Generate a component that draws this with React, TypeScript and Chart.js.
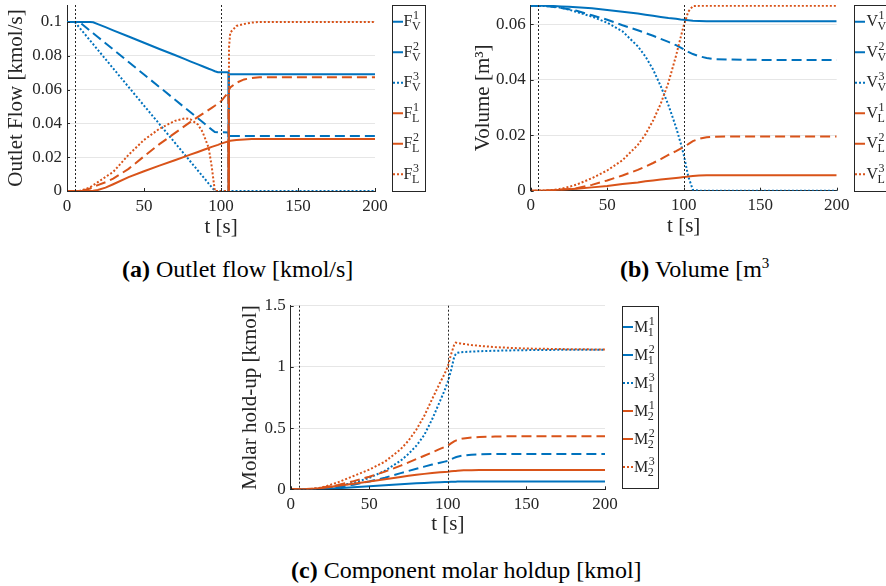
import { useEffect, useRef } from "react";
import { Chart, registerables } from "chart.js";

Chart.register(...registerables);

const BLUE = "#0072BD";
const ORANGE = "#D95319";
const INK = "#262626";
const GRID = "#e6e6e6";
const FONT = "'Liberation Serif', 'Times New Roman', serif";

// shared axis data
const VLINES = [5, 100];
const X_TICKS = [0, 50, 100, 150, 200];
const X_LABELS = ["0", "50", "100", "150", "200"];

// (a) outlet flow [kmol/s]
const T_A = [0, 5, 8, 10, 15, 17, 20, 25, 30, 40, 50, 60, 70, 77, 80, 85, 88, 92, 94, 96, 98, 100, 104.8, 105, 105.2, 106, 110, 115, 120, 125, 130, 150, 200];
const FV1 = [0.1, 0.1, 0.1, 0.1, 0.1, 0.0998, 0.0987, 0.0969, 0.095, 0.0914, 0.0877, 0.084, 0.0804, 0.0778, 0.0767, 0.0749, 0.0738, 0.0723, 0.0716, 0.0708, 0.0703, 0.0703, 0.0702, 0, 0.0691, 0.069, 0.069, 0.069, 0.069, 0.069, 0.069, 0.069, 0.069];
const FV2 = [0.1, 0.1, 0.1, 0.0985, 0.0948, 0.0933, 0.0911, 0.0874, 0.0837, 0.0763, 0.0689, 0.0615, 0.0541, 0.0489, 0.0467, 0.043, 0.0408, 0.0378, 0.0363, 0.0349, 0.0347, 0.0347, 0.0346, 0, 0.0326, 0.0325, 0.0325, 0.0325, 0.0325, 0.0325, 0.0325, 0.0325, 0.0325];
const FV3 = [0.1, 0.1, 0.0967, 0.0945, 0.089, 0.0868, 0.0835, 0.078, 0.0725, 0.0615, 0.0505, 0.0396, 0.0286, 0.0209, 0.0176, 0.0121, 0.0088, 0.0044, 0.0022, 0, 0, 0, 0, 0, 0, 0, 0, 0, 0, 0, 0, 0, 0];
const FL1 = [0, 0, 0, 0, 0, 0.0002, 0.0006, 0.002, 0.004, 0.0082, 0.0117, 0.015, 0.0182, 0.0205, 0.0215, 0.0231, 0.0241, 0.0254, 0.0261, 0.0267, 0.0273, 0.028, 0.0294, 0, 0.0295, 0.0297, 0.0302, 0.0305, 0.0307, 0.0308, 0.0308, 0.0308, 0.0308];
const FL2 = [0, 0, 0, 0.0002, 0.0015, 0.0024, 0.0035, 0.0052, 0.0073, 0.0131, 0.0205, 0.0277, 0.0342, 0.0388, 0.0407, 0.0438, 0.0456, 0.048, 0.0492, 0.0504, 0.0517, 0.053, 0.0585, 0, 0.0598, 0.0612, 0.064, 0.066, 0.0668, 0.0672, 0.0673, 0.0673, 0.0673];
const FL3 = [0, 0, 0, 0.0005, 0.0022, 0.0034, 0.0052, 0.0083, 0.0113, 0.0214, 0.0302, 0.0368, 0.0415, 0.043, 0.0425, 0.0393, 0.035, 0.0255, 0.0143, 0, 0, 0, 0, 0, 0.085, 0.0937, 0.0976, 0.0988, 0.0996, 0.1, 0.1, 0.1, 0.1];
const Y_TICKS_A = [0, 0.02, 0.04, 0.06, 0.08, 0.1];
const Y_LABELS_A = ["0", "0.02", "0.04", "0.06", "0.08", "0.1"];

// (b) volume [m3]
const T_B = [0, 5, 10, 15, 20, 25, 30, 40, 50, 60, 70, 75, 80, 85, 90, 95, 98, 100, 103, 106, 110, 115, 120, 130, 150, 200];
const VV1 = [0.0667, 0.0667, 0.0667, 0.0666, 0.0665, 0.0664, 0.0662, 0.0658, 0.0652, 0.0646, 0.0639, 0.0635, 0.0631, 0.0627, 0.0623, 0.062, 0.0618, 0.0617, 0.0615, 0.0613, 0.0612, 0.0611, 0.0611, 0.0611, 0.0611, 0.0611];
const VV2 = [0.0667, 0.0667, 0.0666, 0.0663, 0.0659, 0.0655, 0.0649, 0.0633, 0.0617, 0.0597, 0.0579, 0.0569, 0.0559, 0.0548, 0.0537, 0.0525, 0.0516, 0.051, 0.0501, 0.0493, 0.0485, 0.0479, 0.0475, 0.0473, 0.0472, 0.0472];
const VV3 = [0.0667, 0.0667, 0.0666, 0.0664, 0.066, 0.0653, 0.0645, 0.0628, 0.0606, 0.0575, 0.0521, 0.0484, 0.0437, 0.0377, 0.0309, 0.0229, 0.0172, 0.013, 0.0051, 0.0003, 0, 0, 0, 0, 0, 0];
const VL1 = [0, 0, 0.0001, 0.0002, 0.0003, 0.0005, 0.0007, 0.0012, 0.0017, 0.0024, 0.003, 0.0034, 0.0037, 0.004, 0.0043, 0.0046, 0.0048, 0.0049, 0.0051, 0.0053, 0.0055, 0.0056, 0.0056, 0.0056, 0.0056, 0.0056];
const VL2 = [0, 0, 0.0001, 0.0002, 0.0004, 0.0006, 0.0009, 0.0021, 0.0037, 0.0055, 0.0075, 0.0087, 0.01, 0.0114, 0.0129, 0.0143, 0.0152, 0.0158, 0.0168, 0.0179, 0.0187, 0.0193, 0.0195, 0.0196, 0.0196, 0.0196];
const VL3 = [0, 0, 0.0001, 0.0003, 0.0007, 0.0014, 0.0022, 0.0045, 0.0073, 0.011, 0.0165, 0.0203, 0.0253, 0.0314, 0.039, 0.0487, 0.0553, 0.0595, 0.0646, 0.0666, 0.0667, 0.0667, 0.0667, 0.0667, 0.0667, 0.0667];
const Y_TICKS_B = [0, 0.02, 0.04, 0.06];
const Y_LABELS_B = ["0", "0.02", "0.04", "0.06"];

// (c) component molar holdup [kmol]
const T_C = [0, 5, 10, 15, 20, 25, 30, 40, 50, 60, 70, 75, 80, 85, 90, 95, 98, 100, 102, 104, 105, 106, 108, 110, 115, 120, 130, 140, 150, 175, 200];
const M11 = [0, 0, 0.0003, 0.001, 0.003, 0.005, 0.008, 0.016, 0.025, 0.034, 0.042, 0.046, 0.049, 0.052, 0.055, 0.058, 0.059, 0.06, 0.061, 0.062, 0.062, 0.063, 0.063, 0.064, 0.064, 0.064, 0.064, 0.064, 0.064, 0.064, 0.064];
const M12 = [0, 0, 0.001, 0.003, 0.007, 0.013, 0.019, 0.038, 0.064, 0.095, 0.132, 0.15, 0.168, 0.185, 0.202, 0.217, 0.226, 0.232, 0.245, 0.257, 0.262, 0.266, 0.272, 0.277, 0.283, 0.286, 0.288, 0.289, 0.289, 0.289, 0.289];
const M13 = [0, 0, 0.001, 0.004, 0.009, 0.016, 0.026, 0.053, 0.093, 0.152, 0.234, 0.29, 0.356, 0.444, 0.572, 0.72, 0.81, 0.88, 0.97, 1.08, 1.105, 1.115, 1.12, 1.122, 1.125, 1.128, 1.132, 1.135, 1.137, 1.14, 1.141];
const M21 = [0, 0, 0.001, 0.004, 0.01, 0.019, 0.029, 0.046, 0.064, 0.083, 0.101, 0.11, 0.118, 0.126, 0.133, 0.139, 0.142, 0.144, 0.147, 0.149, 0.15, 0.151, 0.153, 0.155, 0.156, 0.157, 0.157, 0.157, 0.157, 0.157, 0.157];
const M22 = [0, 0, 0.002, 0.006, 0.014, 0.024, 0.035, 0.067, 0.103, 0.144, 0.193, 0.22, 0.247, 0.274, 0.302, 0.33, 0.346, 0.357, 0.375, 0.392, 0.398, 0.402, 0.41, 0.416, 0.423, 0.428, 0.431, 0.433, 0.433, 0.433, 0.433];
const M23 = [0, 0, 0.001, 0.005, 0.015, 0.035, 0.057, 0.109, 0.161, 0.226, 0.328, 0.398, 0.488, 0.6, 0.737, 0.87, 0.945, 1.005, 1.1, 1.18, 1.198, 1.196, 1.192, 1.188, 1.179, 1.172, 1.162, 1.155, 1.15, 1.145, 1.142];
const Y_TICKS_C = [0, 0.5, 1, 1.5];
const Y_LABELS_C = ["0", "0.5", "1", "1.5"];

// legend labels
const LEG_SUP = ["1", "2", "3", "1", "2", "3"];
const LEG_SUB_AB = ["V", "V", "V", "L", "L", "L"];
const LEG_SUB_C = ["1", "1", "1", "2", "2", "2"];

const STYLES = [
  { color: BLUE, dash: [] as number[] },
  { color: BLUE, dash: [10, 5] },
  { color: BLUE, dash: [2, 2] },
  { color: ORANGE, dash: [] as number[] },
  { color: ORANGE, dash: [10, 5] },
  { color: ORANGE, dash: [2, 2] },
];

type LegendCfg = {
  x: number; y: number; w: number; h: number;
  rowY0: number; rowGap: number; textDx: number; sample: number;
  base: string; sups: string[]; subs: string[];
};

type Spec = {
  t: number[]; ys: number[][]; yMax: number; yTicks: number[]; yLabels: string[];
  yTitle: string; padTop: number; padRight: number; yWidth: number; xHeight: number;
  yTitlePad: number; xTitlePad: number; legend: LegendCfg;
};

function legendPlugin(cfg: LegendCfg) {
  return {
    id: "texLegend",
    afterDraw(chart: any) {
      const ctx = chart.ctx as CanvasRenderingContext2D;
      ctx.save();
      ctx.fillStyle = "#fff";
      ctx.fillRect(cfg.x, cfg.y, cfg.w, cfg.h);
      ctx.strokeStyle = INK;
      ctx.lineWidth = 1;
      ctx.setLineDash([]);
      ctx.strokeRect(Math.round(cfg.x) + 0.5, Math.round(cfg.y) + 0.5, cfg.w, cfg.h);
      chart.data.datasets.forEach((ds: any, i: number) => {
        if (i >= cfg.sups.length) return;
        const cy = cfg.rowY0 + i * cfg.rowGap;
        ctx.beginPath();
        ctx.setLineDash(ds.borderDash || []);
        ctx.strokeStyle = ds.borderColor;
        ctx.lineWidth = 2;
        ctx.moveTo(cfg.x + 1, cy);
        ctx.lineTo(cfg.x + 1 + cfg.sample, cy);
        ctx.stroke();
        ctx.setLineDash([]);
        ctx.fillStyle = INK;
        ctx.textAlign = "left";
        ctx.textBaseline = "alphabetic";
        ctx.font = `16px ${FONT}`;
        const bx = cfg.x + cfg.textDx;
        const by = cy + 4.5;
        ctx.fillText(cfg.base, bx, by);
        const w = ctx.measureText(cfg.base).width;
        ctx.font = `12px ${FONT}`;
        ctx.fillText(cfg.sups[i], bx + w + 0.5, by - 7);
        ctx.fillText(cfg.subs[i], bx + w - 0.5, by + 4);
      });
      ctx.restore();
    },
  };
}

const decorPlugin = {
  id: "decor",
  afterDatasetsDraw(chart: any) {
    const ctx = chart.ctx as CanvasRenderingContext2D;
    const a = chart.chartArea;
    const xs = chart.scales.x;
    const ys = chart.scales.y;
    ctx.save();
    ctx.strokeStyle = INK;
    ctx.lineWidth = 1;
    ctx.setLineDash([2, 2]);
    VLINES.forEach((v) => {
      const px = Math.round(xs.getPixelForValue(v)) + 0.5;
      ctx.beginPath();
      ctx.moveTo(px, a.top);
      ctx.lineTo(px, a.bottom);
      ctx.stroke();
    });
    ctx.setLineDash([]);
    ctx.beginPath();
    xs.ticks.forEach((t: any) => {
      const px = Math.round(xs.getPixelForValue(t.value)) + 0.5;
      ctx.moveTo(px, a.bottom);
      ctx.lineTo(px, a.bottom - 3);
    });
    ys.ticks.forEach((t: any) => {
      const py = Math.round(ys.getPixelForValue(t.value)) + 0.5;
      ctx.moveTo(a.left, py);
      ctx.lineTo(a.left + 3, py);
    });
    ctx.stroke();
    ctx.restore();
  },
};

function makeConfig(s: Spec): any {
  const datasets = s.ys.map((y, i) => ({
    data: s.t.map((tt, k) => ({ x: tt, y: y[k] })),
    borderColor: STYLES[i].color,
    borderDash: STYLES[i].dash,
    borderWidth: 2,
    borderCapStyle: "butt",
    pointRadius: 0,
    tension: 0,
    fill: false,
    order: 10 - i,
  }));
  return {
    type: "line",
    data: { datasets },
    plugins: [decorPlugin, legendPlugin(s.legend)],
    options: {
      animation: false,
      responsive: false,
      maintainAspectRatio: false,
      events: [],
      layout: { padding: { top: s.padTop, right: s.padRight, left: 0, bottom: 0 } },
      plugins: { legend: { display: false }, tooltip: { enabled: false } },
      scales: {
        x: {
          type: "linear",
          min: 0,
          max: 200,
          afterBuildTicks: (sc: any) => {
            sc.ticks = X_TICKS.map((v) => ({ value: v }));
          },
          afterFit: (sc: any) => {
            sc.height = s.xHeight;
            sc.paddingLeft = 0; sc.paddingRight = 0; sc.paddingTop = 0; sc.paddingBottom = 0;
          },
          grid: { display: false, drawTicks: false },
          border: { display: true, color: INK, width: 1 },
          ticks: {
            color: INK,
            font: { family: FONT, size: 17 },
            padding: 5,
            maxRotation: 0,
            autoSkip: false,
            callback: (_v: any, i: number) => X_LABELS[i],
          },
          title: {
            display: true,
            text: "t [s]",
            color: INK,
            font: { family: FONT, size: 21, lineHeight: 1 },
            padding: { top: 0, bottom: s.xTitlePad },
          },
        },
        y: {
          type: "linear",
          min: 0,
          max: s.yMax,
          afterBuildTicks: (sc: any) => {
            sc.ticks = s.yTicks.map((v) => ({ value: v }));
          },
          afterFit: (sc: any) => {
            sc.width = s.yWidth;
            sc.paddingLeft = 0; sc.paddingRight = 0; sc.paddingTop = 0; sc.paddingBottom = 0;
          },
          grid: { display: true, drawTicks: false, color: GRID, lineWidth: 1 },
          border: { display: true, color: INK, width: 1 },
          ticks: {
            color: INK,
            font: { family: FONT, size: 17 },
            padding: 5,
            autoSkip: false,
            callback: (_v: any, i: number) => s.yLabels[i],
          },
          title: {
            display: true,
            text: s.yTitle,
            color: INK,
            font: { family: FONT, size: 21 },
            padding: { top: s.yTitlePad, bottom: 0 },
          },
        },
      },
    },
  };
}

const SPEC_A: Spec = {
  t: T_A, ys: [FV1, FV2, FV3, FL1, FL2, FL3], yMax: 0.11, yTicks: Y_TICKS_A, yLabels: Y_LABELS_A,
  yTitle: "Outlet Flow [kmol/s]", padTop: 5, padRight: 65, yWidth: 67, xHeight: 49,
  yTitlePad: 4, xTitlePad: 2,
  legend: { x: 392, y: 5, w: 33, h: 186, rowY0: 21.75, rowGap: 30.5, textDx: 11.5, sample: 10, base: "F", sups: LEG_SUP, subs: LEG_SUB_AB },
};
const SPEC_B: Spec = {
  t: T_B, ys: [VV1, VV2, VV3, VL1, VL2, VL3], yMax: 0.067, yTicks: Y_TICKS_B, yLabels: Y_LABELS_B,
  yTitle: "Volume [m³]", padTop: 5, padRight: 49.3, yWidth: 90.7, xHeight: 49.3,
  yTitlePad: 31, xTitlePad: 3,
  legend: { x: 414, y: 5, w: 40, h: 186, rowY0: 21.75, rowGap: 30.5, textDx: 12.5, sample: 10, base: "V", sups: LEG_SUP, subs: LEG_SUB_AB },
};
const SPEC_C: Spec = {
  t: T_C, ys: [M11, M12, M13, M21, M22, M23], yMax: 1.5, yTicks: Y_TICKS_C, yLabels: Y_LABELS_C,
  yTitle: "Molar hold-up [kmol]", padTop: 15.7, padRight: 65, yWidth: 60.7, xHeight: 50.7,
  yTitlePad: 7.4, xTitlePad: 5.5,
  legend: { x: 392, y: 16, w: 36, h: 182, rowY0: 37, rowGap: 28, textDx: 12, sample: 10, base: "M", sups: LEG_SUP, subs: LEG_SUB_C },
};

const captionStyle: React.CSSProperties = {
  position: "absolute",
  fontFamily: FONT,
  fontSize: 24,
  lineHeight: "24px",
  color: "#000",
  whiteSpace: "nowrap",
};

export default function App() {
  const refA = useRef<HTMLCanvasElement>(null);
  const refB = useRef<HTMLCanvasElement>(null);
  const refC = useRef<HTMLCanvasElement>(null);

  useEffect(() => {
    const charts: Chart[] = [];
    if (refA.current) charts.push(new Chart(refA.current, makeConfig(SPEC_A)));
    if (refB.current) charts.push(new Chart(refB.current, makeConfig(SPEC_B)));
    if (refC.current) charts.push(new Chart(refC.current, makeConfig(SPEC_C)));
    return () => charts.forEach((c) => c.destroy());
  }, []);

  return (
    <div style={{ position: "absolute", left: 0, top: 0, width: 886, height: 586, overflow: "hidden", background: "#fff" }}>
      <canvas ref={refA} width={440} height={240} style={{ position: "absolute", left: 0, top: 0, width: 440, height: 240 }} />
      <canvas ref={refB} width={446} height={240} style={{ position: "absolute", left: 440, top: 0, width: 446, height: 240 }} />
      <canvas ref={refC} width={440} height={250} style={{ position: "absolute", left: 230, top: 290, width: 440, height: 250 }} />
      <div style={{ ...captionStyle, left: 122, top: 257 }}>
        <b>(a)</b> Outlet flow [kmol/s]
      </div>
      <div style={{ ...captionStyle, left: 620, top: 257 }}>
        <b>(b)</b> Volume [m<sup style={{ fontSize: 15, lineHeight: 0 }}>3</sup>
      </div>
      <div style={{ ...captionStyle, left: 291, top: 558 }}>
        <b>(c)</b> Component molar holdup [kmol]
      </div>
    </div>
  );
}
